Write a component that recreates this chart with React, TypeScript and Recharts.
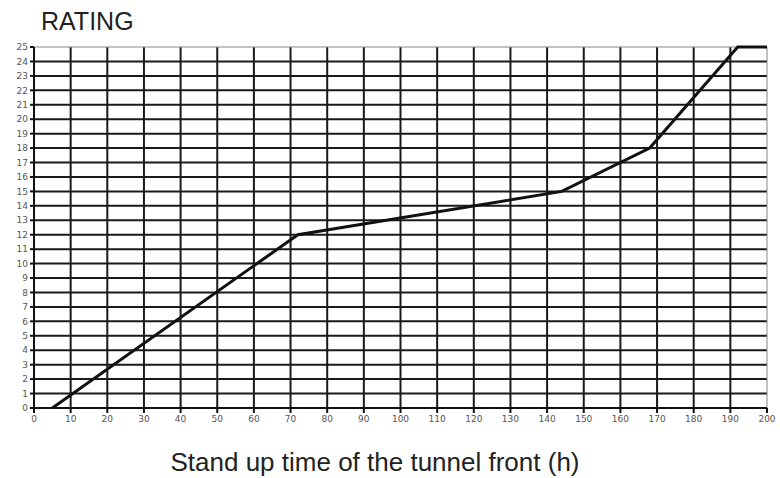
import React from 'react';
import { LineChart, Line, XAxis, YAxis, CartesianGrid, ReferenceLine } from 'recharts';

const hours = [5, 72, 144, 168, 192, 200];
const rating = [0, 12, 15, 18, 25, 25];
const xTicks = [0, 10, 20, 30, 40, 50, 60, 70, 80, 90, 100, 110, 120, 130, 140, 150, 160, 170, 180, 190, 200];
const yTicks = [0, 1, 2, 3, 4, 5, 6, 7, 8, 9, 10, 11, 12, 13, 14, 15, 16, 17, 18, 19, 20, 21, 22, 23, 24, 25];
const title = 'RATING';
const xLabel = 'Stand up time of the tunnel front (h)';

const data = hours.map((h, i) => ({ h, r: rating[i] }));

const W = 780;
const H = 478;
const M = { top: 47, right: 13, left: 0, bottom: 0 };
const plotLeft = 34;
const plotTop = 47;
const plotW = W - plotLeft - M.right;
const plotH = H - 70 - plotTop;

export default function App() {
  return (
    <div style={{ position: 'absolute', left: 0, top: 0, width: W, height: H, background: '#fff', fontFamily: '"Liberation Sans", Arial, sans-serif' }}>
      <div style={{ position: 'absolute', left: 41, top: 6, fontSize: 25, color: '#222', lineHeight: '30px' }}>{title}</div>
      <LineChart width={W} height={H} data={data} margin={M}>
        <CartesianGrid
          stroke="#1a1a1a"
          strokeWidth={2}
          horizontalCoordinatesGenerator={() =>
            yTicks.filter((v) => v > 0 && v < 25).map((v) => plotTop + plotH - (v / 25) * plotH)
          }
          verticalCoordinatesGenerator={() =>
            xTicks.filter((v) => v > 0 && v < 200).map((v) => plotLeft + (v / 200) * plotW)
          }
        />
        <ReferenceLine y={25} stroke="#888" strokeWidth={1} />
        <ReferenceLine x={200} stroke="#888" strokeWidth={1} />
        <XAxis
          dataKey="h"
          type="number"
          domain={[0, 200]}
          ticks={xTicks}
          interval={0}
          height={70}
          stroke="#111"
          strokeWidth={2}
          tickSize={5}
          tickMargin={3}
          tick={{ fontSize: 9, fill: '#555', fontFamily: 'DejaVu Sans' }}
        />
        <YAxis
          type="number"
          domain={[0, 25]}
          ticks={yTicks}
          interval={0}
          width={34}
          stroke="#111"
          strokeWidth={2}
          tickSize={4}
          tickMargin={2}
          tick={{ fontSize: 9, fill: '#555', fontFamily: 'DejaVu Sans' }}
        />
        <Line
          type="linear"
          dataKey="r"
          stroke="#111"
          strokeWidth={3}
          dot={false}
          isAnimationActive={false}
        />
      </LineChart>
      <div style={{ position: 'absolute', left: 0, width: W - 30, textAlign: 'center', top: 447, fontSize: 26, color: '#222', lineHeight: '30px' }}>{xLabel}</div>
    </div>
  );
}
